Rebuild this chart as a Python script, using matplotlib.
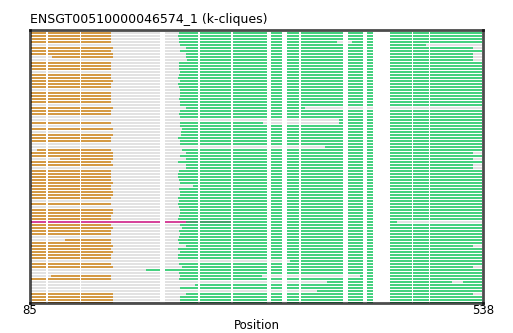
import matplotlib
matplotlib.use("Agg")
from matplotlib import pyplot as plt

# alignment span shown on the x axis
pos_min = 85
pos_max = 538
row_first = 86
row_last = 537

# one entry per sequence, top row first (0 = no orange block)
orange_start = [86, 86, 87, 86, 0, 86, 87, 86, 107, 0,
                86, 86, 87, 0, 87, 87, 87, 87, 87, 0,
                86, 86, 87, 86, 0, 86, 87, 87, 0, 0,
                87, 0, 87, 0, 87, 87, 87, 0, 0, 92,
                86, 87, 115, 86, 87, 0, 87, 87, 87, 87,
                87, 86, 87, 87, 87, 87, 0, 86, 0, 87,
                87, 87, 87, 0, 87, 87, 87, 87, 0, 120,
                87, 86, 87, 87, 87, 87, 0, 87, 87, 0,
                0, 106, 86, 0, 0, 0, 0, 86, 87, 87, 87]
orange_end = [166, 166, 166, 166, 0, 168, 166, 168, 168, 0,
              166, 166, 166, 0, 166, 166, 168, 166, 166, 0,
              166, 166, 166, 166, 0, 168, 166, 166, 0, 0,
              166, 0, 168, 0, 168, 166, 166, 0, 0, 166,
              168, 168, 168, 166, 168, 0, 166, 166, 166, 166,
              168, 166, 166, 168, 168, 166, 0, 166, 0, 168,
              168, 166, 166, 0, 166, 168, 166, 166, 0, 166,
              166, 168, 166, 168, 166, 166, 0, 166, 168, 0,
              0, 166, 166, 0, 0, 0, 0, 168, 168, 168, 168]
green_start = [234, 233, 234, 234, 235, 241, 235, 241, 241, 242,
               234, 234, 234, 235, 234, 233, 235, 233, 234, 235,
               235, 235, 234, 235, 235, 241, 235, 234, 235, 394,
               235, 235, 237, 236, 236, 233, 235, 235, 380, 237,
               241, 235, 241, 233, 241, 241, 234, 233, 233, 234,
               235, 248, 234, 235, 235, 233, 234, 233, 234, 235,
               235, 234, 233, 286, 235, 237, 234, 235, 234, 233,
               234, 241, 233, 235, 233, 233, 345, 234, 237, 201,
               234, 235, 234, 382, 250, 235, 372, 241, 235, 235, 235]
green_end = [537, 537, 537, 537, 481, 528, 537, 528, 528, 528,
             537, 537, 537, 537, 537, 537, 537, 537, 537, 537,
             537, 537, 537, 537, 537, 360, 537, 537, 537, 537,
             537, 537, 537, 537, 537, 537, 537, 537, 537, 537,
             528, 537, 528, 537, 528, 528, 537, 537, 537, 537,
             537, 537, 537, 537, 537, 537, 537, 537, 537, 537,
             537, 537, 537, 452, 537, 537, 537, 537, 537, 537,
             537, 528, 537, 537, 537, 537, 537, 537, 528, 537,
             537, 537, 537, 537, 537, 537, 537, 528, 537, 537, 537]

# grey stretches inside the green block (row index from 1)
green_breaks = {4: [(392, 407)], 31: [(318, 394)],
                82: [(317, 415)], 84: [(507, 518)]}

# the one highlighted sequence
magenta_row = 64
magenta_span = (86, 241)
dark_green_span = (241, 286)

# alignment columns that are gaps in every sequence
gaps = [(100.5, 102.5), (135, 136), (215, 220), (253, 255), (286, 288),
        (322, 326), (337, 342), (354, 356), (398, 403), (418, 422),
        (428, 445), (467, 468), (484, 485)]

col_gray = "#e2e2e2"
col_orange = "#d49a45"
col_green = "#45d17f"
col_magenta = "#d6449a"
col_dark_green = "#4a9e6c"


def cut_gaps(start, end):
    # split an interval where it crosses the gap columns
    pieces = []
    cur = start
    for g0, g1 in gaps:
        if g1 <= cur or g0 >= end:
            continue
        if g0 > cur:
            pieces.append((cur, g0 - cur))
        cur = max(cur, g1)
    if cur < end:
        pieces.append((cur, end - cur))
    return pieces


fig = plt.figure(figsize=(5.13, 3.33), dpi=100)
ax = fig.add_axes([30 / 513, 30 / 333, 453 / 513, 273 / 333])

n_rows = len(green_start)
bar_h = 0.68
for i in range(n_rows):
    row = i + 1
    y = n_rows - row
    yr = (y - bar_h / 2, bar_h)
    ax.broken_barh(cut_gaps(row_first, row_last), yr, facecolors=col_gray)
    if row == magenta_row:
        ax.broken_barh(cut_gaps(*magenta_span), yr, facecolors=col_magenta)
        ax.broken_barh(cut_gaps(*dark_green_span), yr, facecolors=col_dark_green)
    if orange_start[i]:
        ax.broken_barh(cut_gaps(orange_start[i], orange_end[i]), yr,
                       facecolors=col_orange)
    ax.broken_barh(cut_gaps(green_start[i], green_end[i]), yr,
                   facecolors=col_green)
    for b0, b1 in green_breaks.get(row, []):
        ax.broken_barh(cut_gaps(b0, b1), yr, facecolors=col_gray)

ax.set_xlim(pos_min, pos_max)
ax.set_ylim(0, n_rows)
ax.set_yticks([])
ax.set_xticks([pos_min, pos_max])
ax.set_xticklabels([str(pos_min), str(pos_max)], fontsize=8.5)
ax.tick_params(axis="x", length=0, pad=1)
for s in ax.spines.values():
    s.set_linewidth(2)
    s.set_edgecolor((0, 0, 0, 0.7))
    s.set_zorder(5)

ax.set_xlabel("Position", fontsize=8.5, labelpad=1)
ax.set_title("ENSGT00510000046574_1 (k-cliques)", loc="left", fontsize=9, pad=5)

fig.savefig("out.png", dpi=100)
